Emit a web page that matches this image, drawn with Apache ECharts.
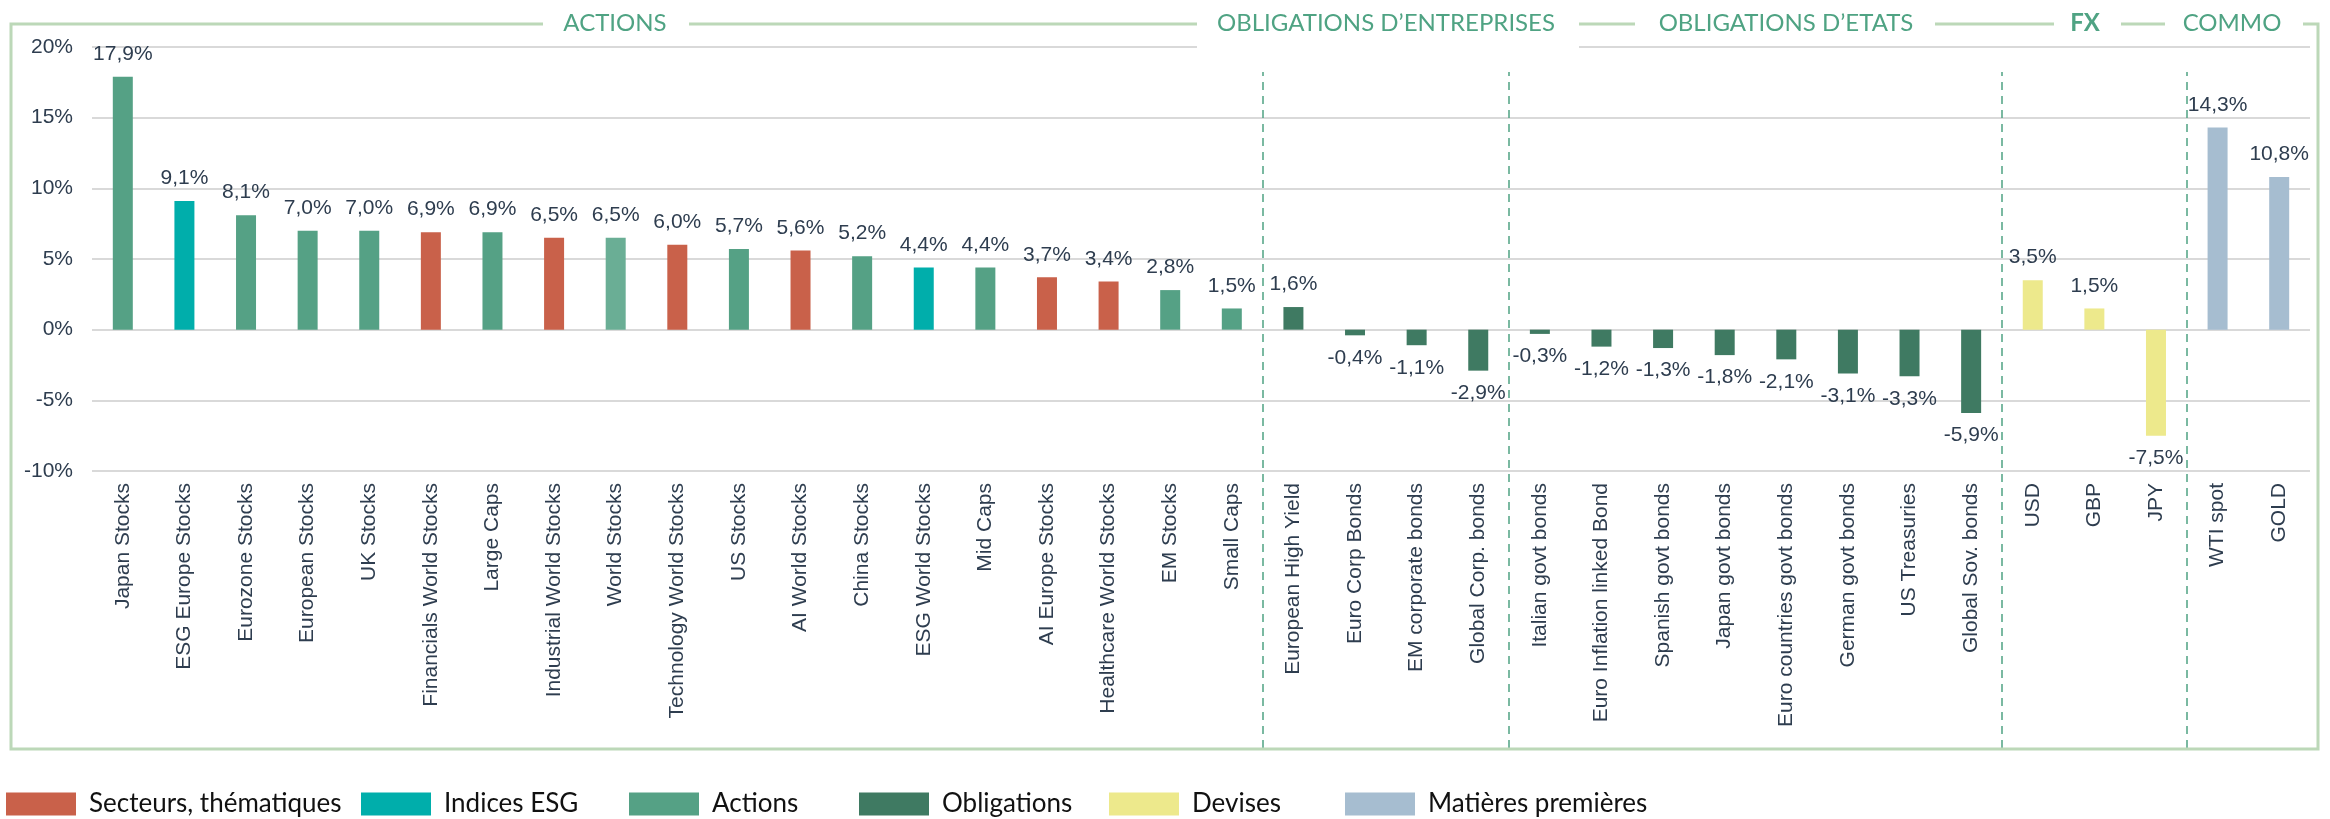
<!DOCTYPE html>
<html>
<head>
<meta charset="utf-8">
<script src="https://cdn.jsdelivr.net/npm/echarts@6/dist/echarts.min.js"></script>
<style>
  html, body { margin: 0; padding: 0; background: #fff; }
  #chart { width: 2330px; height: 819px; }
</style>
</head>
<body>
<div id="chart"></div>
<script>
// categories, values (%) and the group of each bar
const categories = [
  'Japan Stocks', 'ESG Europe Stocks', 'Eurozone Stocks', 'European Stocks', 'UK Stocks',
  'Financials World Stocks', 'Large Caps', 'Industrial World Stocks', 'World Stocks',
  'Technology World Stocks', 'US Stocks', 'AI World Stocks', 'China Stocks', 'ESG World Stocks',
  'Mid Caps', 'AI Europe Stocks', 'Healthcare World Stocks', 'EM Stocks', 'Small Caps',
  'European High Yield', 'Euro Corp Bonds', 'EM corporate bonds', 'Global Corp. bonds',
  'Italian govt bonds', 'Euro Inflation linked Bond', 'Spanish govt bonds', 'Japan govt bonds',
  'Euro countries govt bonds', 'German govt bonds', 'US Treasuries', 'Global Sov. bonds',
  'USD', 'GBP', 'JPY', 'WTI spot', 'GOLD'
];
const values = [
  17.9, 9.1, 8.1, 7.0, 7.0, 6.9, 6.9, 6.5, 6.5, 6.0, 5.7, 5.6, 5.2, 4.4, 4.4, 3.7, 3.4, 2.8, 1.5,
  1.6, -0.4, -1.1, -2.9,
  -0.3, -1.2, -1.3, -1.8, -2.1, -3.1, -3.3, -5.9,
  3.5, 1.5, -7.5,
  14.3, 10.8
];
const groups = [
  'Actions', 'Indices ESG', 'Actions', 'Actions', 'Actions',
  'Secteurs, thématiques', 'Actions', 'Secteurs, thématiques', 'Actions',
  'Secteurs, thématiques', 'Actions', 'Secteurs, thématiques', 'Actions', 'Indices ESG',
  'Actions', 'Secteurs, thématiques', 'Secteurs, thématiques', 'Actions', 'Actions',
  'Obligations', 'Obligations', 'Obligations', 'Obligations',
  'Obligations', 'Obligations', 'Obligations', 'Obligations',
  'Obligations', 'Obligations', 'Obligations', 'Obligations',
  'Devises', 'Devises', 'Devises',
  'Matières premières', 'Matières premières'
];
const seriesNames = ['Secteurs, thématiques', 'Indices ESG', 'Actions', 'Obligations', 'Devises', 'Matières premières'];
const seriesColors = ['#c9614a', '#00aeab', '#55a185', '#3f7a62', '#ede98c', '#a6bdd0'];
// section breaks (category boundaries)
const sectionBreaks = [19, 23, 31, 34];
const yTicks = [-10, -5, 0, 5, 10, 15, 20];

const chart = echarts.init(document.getElementById('chart'));
const txt = '#2e3d4f';
const green = '#4fa383';

function fmt(v) {
  return v.toFixed(1).replace('.', ',') + '%';
}

const barSeries = seriesNames.map(function (name, si) {
  return {
    name: name,
    type: 'bar',
    stack: 'all',
    barWidth: 20,
    itemStyle: { color: seriesColors[si] },
    data: values.map(function (v, i) {
      if (groups[i] !== name) return '-';
      const item = {
        value: v,
        label: { position: v < 0 ? 'bottom' : 'top' }
      };
      if (categories[i] === 'World Stocks') item.itemStyle = { color: '#6aae95' };
      return item;
    }),
    label: {
      show: true,
      distance: 12,
      fontFamily: 'Liberation Sans, Arial',
      fontSize: 21,
      color: txt,
      formatter: function (p) { return fmt(p.value); }
    }
  };
});

const legendLeft = [1, 356, 624, 854, 1104, 1340];
const legends = seriesNames.map(function (name, i) {
  return {
    data: [name],
    left: legendLeft[i],
    top: 786,
    icon: 'rect',
    itemWidth: 70,
    itemHeight: 23,
    textStyle: { fontFamily: 'Lato', fontSize: 26, color: '#111', padding: [2, 0, 0, 8] }
  };
});

// section headers sitting on the frame
const headers = [
  { text: 'ACTIONS', cx: 615, x0: 543, x1: 689, h: 28, bold: false },
  { text: 'OBLIGATIONS D\u2019ENTREPRISES', cx: 1386, x0: 1197, x1: 1579, h: 52, bold: false },
  { text: 'OBLIGATIONS D\u2019ETATS', cx: 1786, x0: 1635, x1: 1935, h: 28, bold: false },
  { text: 'FX', cx: 2085, x0: 2054, x1: 2121, h: 28, bold: true },
  { text: 'COMMO', cx: 2232, x0: 2165, x1: 2303, h: 28, bold: false }
];
const graphics = [{
  type: 'rect', z: 50, silent: true,
  shape: { x: 11, y: 24, width: 2307, height: 725 },
  style: { fill: 'none', stroke: '#bcd8b8', lineWidth: 3 }
}];
headers.forEach(function (h) {
  graphics.push({
    type: 'rect', z: 60, silent: true,
    shape: { x: h.x0, y: h.h > 30 ? 0 : 10, width: h.x1 - h.x0, height: h.h },
    style: { fill: '#fff' }
  });
  graphics.push({
    type: 'text', z: 70, silent: true, x: h.cx, y: 23,
    style: {
      text: h.text, fill: green,
      font: (h.bold ? 'bold ' : '') + '24px Lato',
      textAlign: 'center', textVerticalAlign: 'middle', align: 'center', verticalAlign: 'middle'
    }
  });
});

const option = {
  animation: false,
  backgroundColor: '#fff',
  legend: legends,
  graphic: graphics,
  grid: [
    { left: 92, right: 20, top: 47, bottom: 348 },
    { left: 92, right: 20, top: 72, bottom: 71 }
  ],
  xAxis: [
    {
      type: 'category',
      gridIndex: 0,
      data: categories,
      axisLine: { show: false },
      axisTick: { show: false },
      axisLabel: {
        interval: 0,
        rotate: 90,
        margin: 12,
        fontFamily: 'Liberation Sans, Arial',
        fontSize: 21,
        color: txt
      }
    },
    { type: 'value', gridIndex: 1, min: 0, max: categories.length, show: false }
  ],
  yAxis: [
    {
      type: 'value',
      gridIndex: 0,
      min: yTicks[0],
      max: yTicks[yTicks.length - 1],
      interval: 5,
      axisLine: { show: false },
      axisTick: { show: false },
      splitLine: { lineStyle: { color: '#d9d9d9', width: 2 } },
      axisLabel: {
        margin: 19,
        fontFamily: 'Liberation Sans, Arial',
        fontSize: 21,
        color: txt,
        formatter: '{value}%'
      }
    },
    { type: 'value', gridIndex: 1, min: 0, max: 1, show: false }
  ],
  series: barSeries.concat([{
    name: 'sections',
    type: 'scatter',
    xAxisIndex: 1,
    yAxisIndex: 1,
    symbolSize: 0,
    silent: true,
    data: [[0, 0]],
    markLine: {
      silent: true,
      symbol: 'none',
      label: { show: false },
      lineStyle: { type: [8, 6], color: green, width: 1.5 },
      data: sectionBreaks.map(function (b) { return { xAxis: b }; })
    }
  }])
};

chart.setOption(option);
</script>
</body>
</html>
